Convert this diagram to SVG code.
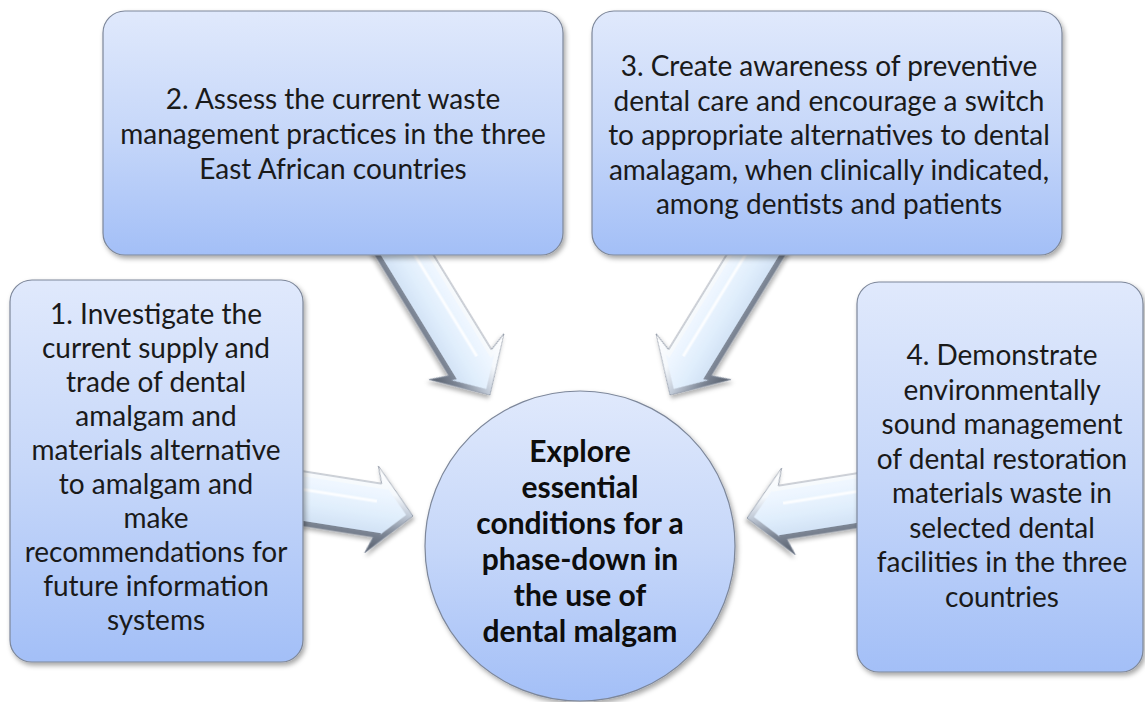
<svg xmlns="http://www.w3.org/2000/svg" xmlns:xlink="http://www.w3.org/1999/xlink" width="1145" height="702" viewBox="0 0 1145 702">
<defs>
<style>
.box{fill:url(#boxGrad);stroke:#7d879a;stroke-width:1.2;filter:url(#shadow);}
.circ{fill:url(#boxGrad);stroke:#7d879a;stroke-width:1.2;filter:url(#shadow);}
.t{font-family:Lato,"Liberation Sans",sans-serif;font-size:28px;fill:#1a1a1a;text-anchor:middle;}
.tb{font-family:Lato,"Liberation Sans",sans-serif;font-size:30px;font-weight:bold;fill:#0d0d0d;text-anchor:middle;}
.abody{fill:url(#arrBody);}
.abevel{fill:none;stroke:url(#arrBevel);stroke-width:10;stroke-linejoin:miter;}
.aline{fill:none;stroke:#858e9d;stroke-width:0.8;stroke-linejoin:miter;}
.ahl{fill:none;stroke:#ffffff;stroke-width:3;stroke-opacity:0.8;}
</style>
<linearGradient id="boxGrad" x1="0" y1="0" x2="0" y2="1">
<stop offset="0" stop-color="#e0e9fc"/>
<stop offset="0.5" stop-color="#c6d7f9"/>
<stop offset="1" stop-color="#a3bff7"/>
</linearGradient>
<linearGradient id="arrBody" gradientUnits="userSpaceOnUse" x1="0" y1="-44" x2="0" y2="44">
<stop offset="0" stop-color="#f7fbff"/>
<stop offset="0.3" stop-color="#eef6ff"/>
<stop offset="0.55" stop-color="#e0eefc"/>
<stop offset="0.75" stop-color="#d2e2f5"/>
<stop offset="1" stop-color="#b8c5d6"/>
</linearGradient>
<linearGradient id="arrBevel" gradientUnits="userSpaceOnUse" x1="0" y1="-44" x2="0" y2="44">
<stop offset="0" stop-color="#ffffff"/>
<stop offset="0.3" stop-color="#f4f8fc"/>
<stop offset="0.5" stop-color="#c2cbd8"/>
<stop offset="0.75" stop-color="#7d8695"/>
<stop offset="1" stop-color="#555d6a"/>
</linearGradient>
<filter id="shadow" x="-10%" y="-10%" width="125%" height="125%">
<feDropShadow dx="2" dy="3" stdDeviation="2.5" flood-color="#000" flood-opacity="0.35"/>
</filter>
<filter id="ashadow" x="-20%" y="-20%" width="140%" height="140%">
<feDropShadow dx="2" dy="3" stdDeviation="2" flood-color="#000" flood-opacity="0.3"/>
</filter>
<path id="arrD" d="M -200,-25 L -38,-25 L -45,-44 L 0,0 L -45,44 L -38,25 L -200,25 Z"/>
<path id="arrH" d="M -140,-27 L -36,-27 L -42,-44 L 0,0 L -42,44 L -36,27 L -140,27 Z"/>
<clipPath id="clipD"><use xlink:href="#arrD"/></clipPath>
<clipPath id="clipH"><use xlink:href="#arrH"/></clipPath>
</defs>
<rect x="0" y="0" width="1145" height="702" fill="#ffffff"/>

<g id="center">
<circle class="circ" cx="580" cy="546" r="155"/>
<text class="tb" x="580" y="462">Explore</text>
<text class="tb" x="580" y="498">essential</text>
<text class="tb" x="580" y="534">conditions for a</text>
<text class="tb" x="580" y="570">phase-down in</text>
<text class="tb" x="580" y="606">the use of</text>
<text class="tb" x="580" y="642">dental malgam</text>
</g>

<g id="connectors">
<g id="arrow2" filter="url(#ashadow)" transform="translate(490,395) rotate(58.5)">
<use xlink:href="#arrD" class="abody"/>
<use xlink:href="#arrD" class="abevel" clip-path="url(#clipD)"/>
<path class="ahl" d="M -200,-9 L -40,-9"/>
<use xlink:href="#arrD" class="aline"/>
</g>
<g id="arrow3" filter="url(#ashadow)" transform="translate(670,395) rotate(121.5) scale(1,-1)">
<use xlink:href="#arrD" class="abody"/>
<use xlink:href="#arrD" class="abevel" clip-path="url(#clipD)"/>
<path class="ahl" d="M -200,-9 L -40,-9"/>
<use xlink:href="#arrD" class="aline"/>
</g>
<g id="arrow1" filter="url(#ashadow)" transform="translate(413,516) rotate(9)">
<use xlink:href="#arrH" class="abody"/>
<use xlink:href="#arrH" class="abevel" clip-path="url(#clipH)"/>
<path class="ahl" d="M -140,-9 L -38,-9"/>
<use xlink:href="#arrH" class="aline"/>
</g>
<g id="arrow4" filter="url(#ashadow)" transform="translate(747,518) rotate(171) scale(1,-1)">
<use xlink:href="#arrH" class="abody"/>
<use xlink:href="#arrH" class="abevel" clip-path="url(#clipH)"/>
<path class="ahl" d="M -140,-9 L -38,-9"/>
<use xlink:href="#arrH" class="aline"/>
</g>
</g>

<g id="node1">
<rect class="box" x="10" y="280" width="293" height="382" rx="22" ry="22"/>
<text class="t" x="156" y="324">1. Investigate the</text>
<text class="t" x="156" y="358">current supply and</text>
<text class="t" x="156" y="392">trade of dental</text>
<text class="t" x="156" y="426">amalgam and</text>
<text class="t" x="156" y="460">materials alternative</text>
<text class="t" x="156" y="494">to amalgam and</text>
<text class="t" x="156" y="528">make</text>
<text class="t" x="156" y="562">recommendations for</text>
<text class="t" x="156" y="596">future information</text>
<text class="t" x="156" y="630">systems</text>
</g>

<g id="node2">
<rect class="box" x="103" y="11" width="460" height="244" rx="22" ry="22"/>
<text class="t" x="333" y="109">2. Assess the current waste</text>
<text class="t" x="333" y="144">management practices in the three</text>
<text class="t" x="333" y="179">East African countries</text>
</g>

<g id="node3">
<rect class="box" x="592" y="11" width="470" height="244" rx="22" ry="22"/>
<text class="t" x="829" y="76">3. Create awareness of preventive</text>
<text class="t" x="829" y="110.5">dental care and encourage a switch</text>
<text class="t" x="829" y="145">to appropriate alternatives to dental</text>
<text class="t" x="829" y="179.5">amalagam, when clinically indicated,</text>
<text class="t" x="829" y="214">among dentists and patients</text>
</g>

<g id="node4">
<rect class="box" x="857" y="282" width="286" height="390" rx="22" ry="22"/>
<text class="t" x="1002" y="365">4. Demonstrate</text>
<text class="t" x="1002" y="399.5">environmentally</text>
<text class="t" x="1002" y="434">sound management</text>
<text class="t" x="1002" y="468.5">of dental restoration</text>
<text class="t" x="1002" y="503">materials waste in</text>
<text class="t" x="1002" y="537.5">selected dental</text>
<text class="t" x="1002" y="572">facilities in the three</text>
<text class="t" x="1002" y="606.5">countries</text>
</g>
</svg>
